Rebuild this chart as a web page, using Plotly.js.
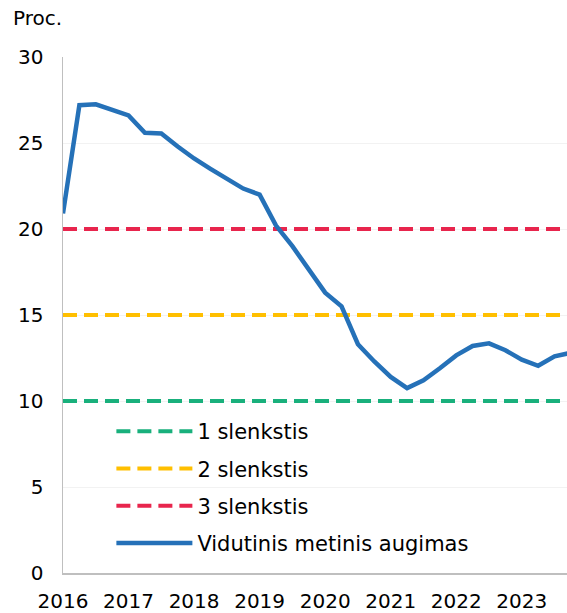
<!DOCTYPE html>
<html>
<head>
<meta charset="utf-8">
<script src="https://cdn.plot.ly/plotly-3.0.1.min.js"></script>
<style>html,body{margin:0;padding:0;background:#fff;}#chart{width:567px;height:613px;}</style>
</head>
<body>
<div id="chart"></div>
<script>
// Quarterly time points (decimal years)
const quarters = [2016.0, 2016.25, 2016.5, 2016.75, 2017.0, 2017.25, 2017.5, 2017.75,
  2018.0, 2018.25, 2018.5, 2018.75, 2019.0, 2019.25, 2019.5, 2019.75,
  2020.0, 2020.25, 2020.5, 2020.75, 2021.0, 2021.25, 2021.5, 2021.75,
  2022.0, 2022.25, 2022.5, 2022.75, 2023.0, 2023.25, 2023.5, 2023.75];
// Vidutinis metinis augimas (%)
const growth = [20.9, 27.2, 27.25, 26.9, 26.6, 25.6, 25.55, 24.8,
  24.1, 23.5, 22.9, 22.35, 22.0, 20.2, 19.0, 17.6,
  16.3, 15.5, 13.3, 12.3, 11.4, 10.75, 11.2, 11.9,
  12.65, 13.2, 13.35, 12.95, 12.4, 12.05, 12.6, 12.8];
// Thresholds
const thresholdX = [2016.0, 2023.75];
const threshold1 = [10, 10];
const threshold2 = [15, 15];
const threshold3 = [20, 20];
const seriesNames = ["1 slenkstis", "2 slenkstis", "3 slenkstis", "Vidutinis metinis augimas"];
const yearTicks = [2016, 2017, 2018, 2019, 2020, 2021, 2022, 2023];
const yearLabels = ["2016", "2017", "2018", "2019", "2020", "2021", "2022", "2023"];

const FONT = "DejaVu Sans, Verdana, sans-serif";
const traces = [
  {x: thresholdX, y: threshold1, name: seriesNames[0], mode: "lines", legendgroup: "a",
   line: {color: "#19b07c", width: 4, dash: "14px,7px"}},
  {x: thresholdX, y: threshold2, name: seriesNames[1], mode: "lines", legendgroup: "b",
   line: {color: "#ffbf00", width: 4, dash: "14px,7px"}},
  {x: thresholdX, y: threshold3, name: seriesNames[2], mode: "lines", legendgroup: "c",
   line: {color: "#e8254d", width: 4, dash: "14px,7px"}},
  {x: quarters, y: growth, name: seriesNames[3], mode: "lines", legendgroup: "d",
   line: {color: "#2571b8", width: 4.5}}
];

const layout = {
  width: 567, height: 613,
  margin: {l: 63, r: 0, t: 57, b: 40, pad: 0},
  paper_bgcolor: "#fff", plot_bgcolor: "#fff",
  font: {family: FONT, size: 20, color: "#000"},
  showlegend: true,
  legend: {x: 0.096, y: 0.314, xanchor: "left", yanchor: "top",
    bgcolor: "rgba(0,0,0,0)", font: {family: FONT, size: 21, color: "#000"},
    itemwidth: 76, tracegroupgap: 7},
  xaxis: {range: [2016, 2023.69], tickvals: yearTicks, ticktext: yearLabels,
    showgrid: false, zeroline: false, showline: true, linecolor: "#bfbfbf", linewidth: 1.5,
    ticks: "", ticklabelstandoff: 9, tickfont: {family: FONT, size: 20, color: "#000"}, fixedrange: true},
  yaxis: {range: [0, 30], tickvals: [0, 5, 10, 15, 20, 25, 30],
    showgrid: true, gridcolor: "#f2f2f2", gridwidth: 1, zeroline: false,
    showline: true, linecolor: "#bfbfbf", linewidth: 1.5, ticks: "", ticklabelstandoff: 14,
    tickfont: {family: FONT, size: 20, color: "#000"}, fixedrange: true},
  annotations: [{text: "Proc.", xref: "paper", yref: "paper",
    x: (11 - 63) / 504, y: (573 - 18) / 516, xanchor: "left", yanchor: "middle",
    showarrow: false, font: {family: FONT, size: 20, color: "#000"}}]
};

Plotly.newPlot("chart", traces, layout, {staticPlot: true, displayModeBar: false});
</script>
</body>
</html>
